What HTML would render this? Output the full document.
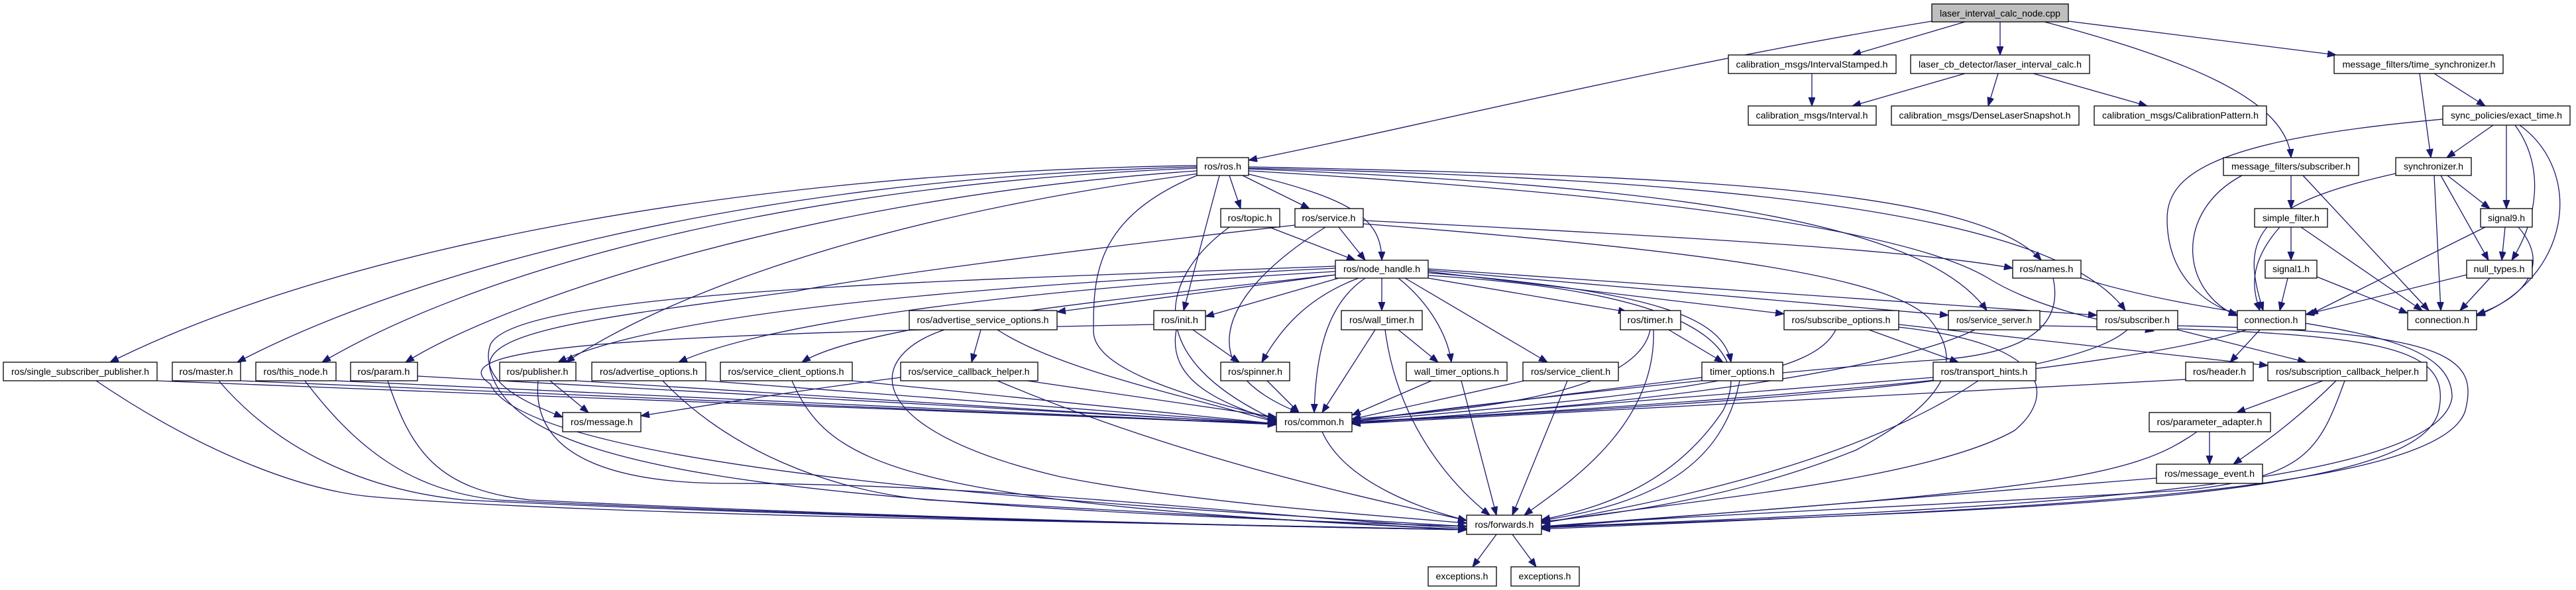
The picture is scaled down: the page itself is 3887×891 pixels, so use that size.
<!DOCTYPE html>
<html><head><meta charset="utf-8"><style>
html,body{margin:0;padding:0;background:#fff;}
svg{display:block;}
.e{fill:none;stroke:#191970;stroke-width:1.3;marker-end:url(#a);}
.n{fill:#fff;stroke:#000;stroke-width:1.3;}
text{font-family:"Liberation Sans",sans-serif;font-size:14px;fill:#000;text-anchor:middle;}
</style></head><body>
<svg width="3887" height="891" viewBox="0 0 3887 891" xmlns="http://www.w3.org/2000/svg">
<defs><marker id="a" markerUnits="userSpaceOnUse" markerWidth="14" markerHeight="12" refX="13" refY="5" orient="auto"><path d="M0,0 L13,5 L0,10 z" fill="#191970" stroke="#191970"/></marker></defs>
<g>
<path class="e" d="M2915,32 C2500,100 2100,200 1884,242"/>
<path class="e" d="M2965,33 L2795,83"/>
<path class="e" d="M3018,33 L3018,83"/>
<path class="e" d="M3085,33 C3300,90 3450,150 3457,238"/>
<path class="e" d="M3121,32 L3525,83"/>
<path class="e" d="M2734,111 L2734,160"/>
<path class="e" d="M2965,111 L2795,160"/>
<path class="e" d="M3015,111 L3000,160"/>
<path class="e" d="M3068,111 L3240,160"/>
<path class="e" d="M3651,111 L3668,238"/>
<path class="e" d="M3673,111 L3750,160"/>
<path class="e" d="M3686,180 C3350,210 3270,260 3270,330 C3270,420 3330,460 3376,475"/>
<path class="e" d="M3762,189 L3692,238"/>
<path class="e" d="M3782,189 L3782,315"/>
<path class="e" d="M3795,189 C3840,250 3830,330 3790,393"/>
<path class="e" d="M3802,189 C3900,260 3880,420 3737,477"/>
<path class="e" d="M3383,265 C3280,320 3290,440 3376,477"/>
<path class="e" d="M3457,265 L3457,315"/>
<path class="e" d="M3475,265 L3665,469"/>
<path class="e" d="M3615,262 C3400,310 3380,360 3415,469"/>
<path class="e" d="M3693,265 L3757,315"/>
<path class="e" d="M3683,265 L3755,393"/>
<path class="e" d="M3673,265 L3683,469"/>
<path class="e" d="M3457,343 L3457,393"/>
<path class="e" d="M3440,343 C3390,400 3400,440 3410,469"/>
<path class="e" d="M3472,343 L3655,469"/>
<path class="e" d="M3452,420 L3440,469"/>
<path class="e" d="M3496,418 L3633,473"/>
<path class="e" d="M3750,343 L3485,475"/>
<path class="e" d="M3780,343 L3775,393"/>
<path class="e" d="M3800,343 C3850,400 3810,450 3737,475"/>
<path class="e" d="M3722,415 L3479,475"/>
<path class="e" d="M3757,420 L3712,469"/>

<path class="e" d="M1806,250 C1100,260 500,380 166,547"/>
<path class="e" d="M1806,252 C1100,270 600,420 358,547"/>
<path class="e" d="M1806,254 C1150,280 700,420 486,547"/>
<path class="e" d="M1806,258 C1200,300 750,460 612,547"/>
<path class="e" d="M1810,262 C1300,330 1000,450 854,547"/>
<path class="e" d="M1855,265 L1872,315"/>
<path class="e" d="M1875,265 L1976,315"/>
<path class="e" d="M1880,262 C2040,300 2085,330 2085,393"/>
<path class="e" d="M1840,265 L1786,469"/>
<path class="e" d="M1806,265 C1650,330 1650,420 1650,500 C1650,560 1800,600 1926,633"/>
<path class="e" d="M1884,252 C2500,265 2980,280 3080,393"/>
<path class="e" d="M1884,255 C2500,280 2900,330 2998,469"/>
<path class="e" d="M1884,254 C2600,270 3100,320 3207,469"/>
<path class="e" d="M1884,258 C2600,300 2900,360 3000,420 C3080,470 3200,490 3250,500"/>

<path class="e" d="M2020,343 L2060,393"/>
<path class="e" d="M2000,343 C1830,450 1800,560 1960,623"/>
<path class="e" d="M2057,333 C2600,360 2900,380 3037,405"/>
<path class="e" d="M2057,338 C2600,380 2850,420 2910,480 C2960,540 2950,600 2800,680 C2600,760 2400,780 2326,788"/>
<path class="e" d="M1954,340 C1600,380 1300,420 1200,440 C900,480 720,500 740,560 C780,700 1100,760 2213,795"/>
<path class="e" d="M1915,343 L2045,393"/>
<path class="e" d="M1855,343 C1750,420 1720,540 1926,635"/>

<path class="e" d="M2015,415 L1595,471"/>
<path class="e" d="M2020,420 L1819,478"/>
<path class="e" d="M2085,420 L2085,469"/>
<path class="e" d="M2155,420 L2455,471"/>
<path class="e" d="M2050,420 C1970,450 1930,500 1904,547"/>
<path class="e" d="M2060,420 C2000,460 1985,540 1983,623"/>
<path class="e" d="M2110,420 C2160,460 2185,510 2190,547"/>
<path class="e" d="M2120,420 L2335,547"/>
<path class="e" d="M2155,412 C2500,440 2600,480 2612,547"/>
<path class="e" d="M2155,410 L2692,474"/>
<path class="e" d="M2155,408 L2940,476"/>
<path class="e" d="M2155,406 L3164,476"/>
<path class="e" d="M2015,405 C1500,430 1000,470 842,547"/>
<path class="e" d="M2015,410 C1500,440 1150,490 1024,547"/>
<path class="e" d="M2015,415 C1700,450 1300,490 1210,547"/>
<path class="e" d="M2015,402 C1400,425 780,440 740,520 C720,580 800,610 849,630"/>
<path class="e" d="M2155,416 C2550,440 2650,520 2600,620 C2520,740 2400,770 2326,785"/>

<path class="e" d="M1480,498 L1466,547"/>
<path class="e" d="M1505,498 C1600,560 1800,600 1926,638"/>
<path class="e" d="M1425,498 C1300,540 1300,650 1600,720 C1800,760 2100,780 2213,790"/>
<path class="e" d="M1800,498 L1870,547"/>
<path class="e" d="M1775,498 C1760,580 1850,610 1926,637"/>
<path class="e" d="M1741,490 C1000,505 650,520 740,580 C800,720 1800,770 2213,795"/>
<path class="e" d="M2110,498 L2170,547"/>
<path class="e" d="M2075,498 L1995,623"/>
<path class="e" d="M2090,498 C2110,650 2200,740 2248,778"/>
<path class="e" d="M2518,498 L2600,547"/>
<path class="e" d="M2490,498 C2470,600 2200,620 2040,633"/>
<path class="e" d="M2495,498 C2500,650 2350,740 2300,778"/>

<path class="e" d="M1359,570 C1200,590 1050,615 967,628"/>
<path class="e" d="M1550,575 L1926,630"/>
<path class="e" d="M1505,575 C1800,700 2100,760 2213,786"/>
<path class="e" d="M830,575 L888,623"/>
<path class="e" d="M237,575 C800,600 1500,620 1926,640"/>
<path class="e" d="M145,575 C300,680 450,740 560,750 C900,780 1800,790 2213,800"/>
<path class="e" d="M363,575 L1926,641"/>
<path class="e" d="M330,575 C420,680 550,740 700,755 C1200,780 1900,795 2213,800"/>
<path class="e" d="M507,575 L1926,641"/>
<path class="e" d="M460,575 C540,680 620,740 750,755 C1250,780 1900,795 2213,800"/>
<path class="e" d="M630,568 L1926,640"/>
<path class="e" d="M585,575 C620,680 660,740 800,755 C1300,780 1900,795 2213,800"/>
<path class="e" d="M869,575 L1926,641"/>
<path class="e" d="M812,575 C800,700 950,730 1100,730 C1500,730 1900,780 2213,798"/>
<path class="e" d="M1065,575 L1926,640"/>
<path class="e" d="M1000,575 C1100,680 1250,740 1400,755 L2213,800"/>
<path class="e" d="M1286,575 L1926,640"/>
<path class="e" d="M1195,575 C1250,700 1350,760 2213,800"/>
<path class="e" d="M1912,575 L1960,623"/>
<path class="e" d="M2160,575 L2040,627"/>
<path class="e" d="M2205,575 L2258,778"/>
<path class="e" d="M2300,575 L2040,633"/>
<path class="e" d="M2365,575 L2282,778"/>
<path class="e" d="M2568,570 L2040,636"/>
<path class="e" d="M2625,575 C2600,700 2500,760 2326,786"/>
<path class="e" d="M1995,652 C2030,730 2150,770 2213,786"/>
<path class="e" d="M2258,807 L2222,856"/>
<path class="e" d="M2282,807 L2318,856"/>

<path class="e" d="M2820,498 L2955,547"/>
<path class="e" d="M2770,498 C2740,560 2600,590 2040,636"/>
<path class="e" d="M2865,494 C3100,520 3100,600 3040,650 C2900,730 2500,760 2326,790"/>
<path class="e" d="M2865,490 L3422,552"/>
<path class="e" d="M2980,498 C2850,560 2500,610 2040,638"/>
<path class="e" d="M3078,492 C3600,500 3700,520 3680,620 C3650,760 3000,770 2326,797"/>
<path class="e" d="M3286,492 C3700,500 3740,540 3720,620 C3680,750 3000,770 2326,799"/>
<path class="e" d="M3140,420 C3400,500 3700,480 3700,600 C3680,740 3000,770 2326,796"/>
<path class="e" d="M3098,420 C3120,520 3000,540 2900,545 C2700,560 2300,600 2040,636"/>
<path class="e" d="M3210,498 C3120,580 2600,610 2040,638"/>
<path class="e" d="M3286,498 L3480,547"/>
<path class="e" d="M3410,498 L3365,547"/>
<path class="e" d="M3390,498 C3200,560 2600,610 2040,637"/>
<path class="e" d="M3298,573 L2040,640"/>
<path class="e" d="M3505,575 L3375,623"/>
<path class="e" d="M3525,575 C3460,640 3400,680 3370,701"/>
<path class="e" d="M3538,575 C3500,680 3480,720 3300,740 C3000,760 2500,780 2326,796"/>
<path class="e" d="M2917,570 L2040,640"/>
<path class="e" d="M2985,575 C2800,700 2500,760 2326,790"/>
<path class="e" d="M3334,652 L3334,701"/>
<path class="e" d="M3315,652 C3220,720 3100,740 2326,795"/>
<path class="e" d="M3254,722 L2326,797"/>
</g>
<g>
<rect x="2915" y="6" width="206" height="27" fill="#bfbfbf" stroke="#000" stroke-width="1.3"/><text x="3018" y="25" textLength="182" lengthAdjust="spacingAndGlyphs">laser_interval_calc_node.cpp</text>
<rect class="n" x="2608" y="83" width="253" height="28"/><text x="2734" y="102" textLength="229" lengthAdjust="spacingAndGlyphs">calibration_msgs/IntervalStamped.h</text>
<rect class="n" x="2883" y="83" width="270" height="28"/><text x="3018" y="102" textLength="246" lengthAdjust="spacingAndGlyphs">laser_cb_detector/laser_interval_calc.h</text>
<rect class="n" x="3522" y="83" width="255" height="28"/><text x="3650" y="102" textLength="231" lengthAdjust="spacingAndGlyphs">message_filters/time_synchronizer.h</text>
<rect class="n" x="2638" y="160" width="193" height="29"/><text x="2734" y="179" textLength="169" lengthAdjust="spacingAndGlyphs">calibration_msgs/Interval.h</text>
<rect class="n" x="2854" y="160" width="283" height="29"/><text x="2995" y="179" textLength="259" lengthAdjust="spacingAndGlyphs">calibration_msgs/DenseLaserSnapshot.h</text>
<rect class="n" x="3160" y="160" width="260" height="29"/><text x="3290" y="179" textLength="236" lengthAdjust="spacingAndGlyphs">calibration_msgs/CalibrationPattern.h</text>
<rect class="n" x="3686" y="160" width="192" height="29"/><text x="3782" y="179" textLength="168" lengthAdjust="spacingAndGlyphs">sync_policies/exact_time.h</text>
<rect class="n" x="3355" y="238" width="204" height="27"/><text x="3457" y="256" textLength="180" lengthAdjust="spacingAndGlyphs">message_filters/subscriber.h</text>
<rect class="n" x="3615" y="238" width="114" height="27"/><text x="3672" y="256" textLength="90" lengthAdjust="spacingAndGlyphs">synchronizer.h</text>
<rect class="n" x="1806" y="238" width="78" height="27"/><text x="1845" y="256" textLength="56" lengthAdjust="spacingAndGlyphs">ros/ros.h</text>
<rect class="n" x="3402" y="315" width="110" height="28"/><text x="3457" y="334" textLength="86" lengthAdjust="spacingAndGlyphs">simple_filter.h</text>
<rect class="n" x="3743" y="315" width="78" height="28"/><text x="3782" y="334" textLength="56" lengthAdjust="spacingAndGlyphs">signal9.h</text>
<rect class="n" x="1842" y="315" width="89" height="28"/><text x="1886" y="334" textLength="67" lengthAdjust="spacingAndGlyphs">ros/topic.h</text>
<rect class="n" x="1954" y="315" width="103" height="28"/><text x="2005" y="334" textLength="81" lengthAdjust="spacingAndGlyphs">ros/service.h</text>
<rect class="n" x="2015" y="393" width="140" height="27"/><text x="2085" y="411" textLength="116" lengthAdjust="spacingAndGlyphs">ros/node_handle.h</text>
<rect class="n" x="3037" y="393" width="103" height="27"/><text x="3088" y="411" textLength="81" lengthAdjust="spacingAndGlyphs">ros/names.h</text>
<rect class="n" x="3418" y="393" width="78" height="27"/><text x="3457" y="411" textLength="56" lengthAdjust="spacingAndGlyphs">signal1.h</text>
<rect class="n" x="3722" y="393" width="99" height="27"/><text x="3771" y="411" textLength="77" lengthAdjust="spacingAndGlyphs">null_types.h</text>
<rect class="n" x="1372" y="469" width="223" height="29"/><text x="1483" y="488" textLength="199" lengthAdjust="spacingAndGlyphs">ros/advertise_service_options.h</text>
<rect class="n" x="1741" y="469" width="78" height="29"/><text x="1780" y="488" textLength="56" lengthAdjust="spacingAndGlyphs">ros/init.h</text>
<rect class="n" x="2024" y="469" width="122" height="29"/><text x="2085" y="488" textLength="98" lengthAdjust="spacingAndGlyphs">ros/wall_timer.h</text>
<rect class="n" x="2445" y="469" width="91" height="29"/><text x="2490" y="488" textLength="69" lengthAdjust="spacingAndGlyphs">ros/timer.h</text>
<rect class="n" x="2692" y="469" width="173" height="29"/><text x="2778" y="488" textLength="149" lengthAdjust="spacingAndGlyphs">ros/subscribe_options.h</text>
<rect class="n" x="2940" y="469" width="138" height="29"/><text x="3009" y="488" textLength="114" lengthAdjust="spacingAndGlyphs">ros/service_server.h</text>
<rect class="n" x="3164" y="469" width="122" height="29"/><text x="3225" y="488" textLength="98" lengthAdjust="spacingAndGlyphs">ros/subscriber.h</text>
<rect class="n" x="3376" y="469" width="103" height="29"/><text x="3427" y="488" textLength="81" lengthAdjust="spacingAndGlyphs">connection.h</text>
<rect class="n" x="3633" y="469" width="104" height="29"/><text x="3685" y="488" textLength="82" lengthAdjust="spacingAndGlyphs">connection.h</text>
<rect class="n" x="5" y="547" width="232" height="28"/><text x="121" y="566" textLength="208" lengthAdjust="spacingAndGlyphs">ros/single_subscriber_publisher.h</text>
<rect class="n" x="260" y="547" width="103" height="28"/><text x="311" y="566" textLength="81" lengthAdjust="spacingAndGlyphs">ros/master.h</text>
<rect class="n" x="386" y="547" width="121" height="28"/><text x="446" y="566" textLength="97" lengthAdjust="spacingAndGlyphs">ros/this_node.h</text>
<rect class="n" x="529" y="547" width="101" height="28"/><text x="579" y="566" textLength="79" lengthAdjust="spacingAndGlyphs">ros/param.h</text>
<rect class="n" x="754" y="547" width="115" height="28"/><text x="811" y="566" textLength="93" lengthAdjust="spacingAndGlyphs">ros/publisher.h</text>
<rect class="n" x="893" y="547" width="172" height="28"/><text x="979" y="566" textLength="148" lengthAdjust="spacingAndGlyphs">ros/advertise_options.h</text>
<rect class="n" x="1087" y="547" width="199" height="28"/><text x="1186" y="566" textLength="175" lengthAdjust="spacingAndGlyphs">ros/service_client_options.h</text>
<rect class="n" x="1359" y="547" width="207" height="28"/><text x="1462" y="566" textLength="183" lengthAdjust="spacingAndGlyphs">ros/service_callback_helper.h</text>
<rect class="n" x="1842" y="547" width="104" height="28"/><text x="1894" y="566" textLength="82" lengthAdjust="spacingAndGlyphs">ros/spinner.h</text>
<rect class="n" x="2122" y="547" width="152" height="28"/><text x="2198" y="566" textLength="128" lengthAdjust="spacingAndGlyphs">wall_timer_options.h</text>
<rect class="n" x="2298" y="547" width="144" height="28"/><text x="2370" y="566" textLength="120" lengthAdjust="spacingAndGlyphs">ros/service_client.h</text>
<rect class="n" x="2568" y="547" width="122" height="28"/><text x="2629" y="566" textLength="98" lengthAdjust="spacingAndGlyphs">timer_options.h</text>
<rect class="n" x="2917" y="547" width="155" height="28"/><text x="2994" y="566" textLength="131" lengthAdjust="spacingAndGlyphs">ros/transport_hints.h</text>
<rect class="n" x="3298" y="547" width="102" height="28"/><text x="3349" y="566" textLength="80" lengthAdjust="spacingAndGlyphs">ros/header.h</text>
<rect class="n" x="3422" y="547" width="240" height="28"/><text x="3542" y="566" textLength="216" lengthAdjust="spacingAndGlyphs">ros/subscription_callback_helper.h</text>
<rect class="n" x="849" y="623" width="118" height="29"/><text x="908" y="642" textLength="94" lengthAdjust="spacingAndGlyphs">ros/message.h</text>
<rect class="n" x="1926" y="623" width="114" height="29"/><text x="1983" y="642" textLength="90" lengthAdjust="spacingAndGlyphs">ros/common.h</text>
<rect class="n" x="3243" y="623" width="183" height="29"/><text x="3334" y="642" textLength="159" lengthAdjust="spacingAndGlyphs">ros/parameter_adapter.h</text>
<rect class="n" x="3254" y="701" width="160" height="29"/><text x="3334" y="720" textLength="136" lengthAdjust="spacingAndGlyphs">ros/message_event.h</text>
<rect class="n" x="2213" y="778" width="113" height="29"/><text x="2270" y="797" textLength="89" lengthAdjust="spacingAndGlyphs">ros/forwards.h</text>
<rect class="n" x="2155" y="856" width="103" height="29"/><text x="2206" y="875" textLength="79" lengthAdjust="spacingAndGlyphs">exceptions.h</text>
<rect class="n" x="2280" y="856" width="103" height="29"/><text x="2331" y="875" textLength="79" lengthAdjust="spacingAndGlyphs">exceptions.h</text>
</g>
</svg>
</body></html>
